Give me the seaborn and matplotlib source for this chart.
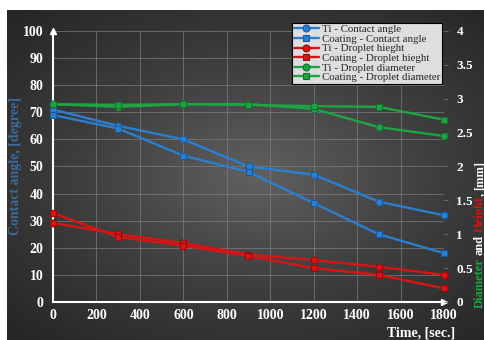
import numpy as np
import pandas as pd
import matplotlib
matplotlib.use("Agg")
import matplotlib.pyplot as plt
import seaborn as sns
from matplotlib.colors import LinearSegmentedColormap

# ---------------- data ----------------
time = [0, 300, 600, 900, 1200, 1500, 1800]
ti_angle = [71, 65, 60, 50, 47, 37, 32]
coat_angle = [69, 64, 54, 48, 36.5, 25, 18]
ti_height = [1.17, 1.00, 0.87, 0.70, 0.62, 0.52, 0.40]
coat_height = [1.31, 0.96, 0.83, 0.68, 0.50, 0.40, 0.20]
ti_diam = [2.92, 2.88, 2.92, 2.92, 2.85, 2.58, 2.45]
coat_diam = [2.92, 2.91, 2.92, 2.91, 2.89, 2.88, 2.69]

labels = ["Ti - Contact angle", "Coating - Contact angle",
          "Ti - Droplet hieght", "Coating - Droplet hieght",
          "Ti - Droplet diameter", "Coating - Droplet diameter"]
x_ticks = [0, 200, 400, 600, 800, 1000, 1200, 1400, 1600, 1800]
left_ticks = list(range(0, 101, 10))
right_ticks = [0, 0.5, 1, 1.5, 2, 2.5, 3, 3.5, 4]
right_ticklabels = ["0", "0.5", "1", "1.5", "2", "2.5", "3", "3.5", "4"]

sns.set_style("ticks")
plt.rcParams['font.family'] = ['Liberation Serif', 'DejaVu Serif']

W, H = 485, 340
fig = plt.figure(figsize=(W / 100, H / 100), dpi=100, facecolor="white")

# background gradient panel
bg = fig.add_axes([7 / W, 0, (W - 7) / W, (H - 10) / H], zorder=-10)
yy, xx = np.mgrid[-1:1:200j, -1:1:300j]
rr = np.sqrt(((xx - 0.05) / 1.1) ** 2 + ((yy - 0.0) / 1.0) ** 2)
grad = np.clip(1 - rr / 1.35, 0, 1)
cmap = LinearSegmentedColormap.from_list("bg", ["#262626", "#3e3e3e", "#606060"])
bg.imshow(grad, cmap=cmap, aspect="auto", extent=[0, 1, 0, 1], interpolation="bilinear")
bg.set_axis_off()

ax = fig.add_axes([53 / W, 38 / H, 391 / W, 271 / H])
ax.set_facecolor("none")
ax2 = ax.twinx()
ax2.set_facecolor("none")

blue, red, green = "#2a7fd2", "#d81414", "#1fa443"
blue_e, red_e, green_e = "#1a5a9c", "#9a0a0a", "#137030"

def draw(a, y, col, edge, marker, label):
    sns.lineplot(x=time, y=y, ax=a, color=col, marker=marker, markersize=5,
                 markeredgecolor=edge, markeredgewidth=0.8, linewidth=1.7,
                 label=label, clip_on=False, zorder=5)

draw(ax, ti_angle, blue, blue_e, "o", labels[0])
draw(ax, coat_angle, blue, blue_e, "s", labels[1])
draw(ax2, ti_height, red, red_e, "o", labels[2])
draw(ax2, coat_height, red, red_e, "s", labels[3])
draw(ax2, ti_diam, green, green_e, "o", labels[4])
draw(ax2, coat_diam, green, green_e, "s", labels[5])

h1, l1 = ax.get_legend_handles_labels()
h2, l2 = ax2.get_legend_handles_labels()
if ax.get_legend():
    ax.get_legend().remove()
if ax2.get_legend():
    ax2.get_legend().remove()

ax.set_xlim(0, 1800)
ax.set_ylim(0, 100)
ax2.set_ylim(0, 4)
ax.set_xticks(x_ticks)
ax.set_yticks(left_ticks)
ax2.set_yticks(right_ticks)
ax2.set_yticklabels(right_ticklabels)
ax.set_xlabel("")
ax.set_ylabel("")
ax2.set_ylabel("")

ax.grid(True, color="#808080", linewidth=0.6, alpha=0.8)
ax.set_axisbelow(True)

tkw = dict(colors="white", labelsize=10)
ax.tick_params(axis="x", length=0, pad=5, **tkw)
ax.tick_params(axis="y", length=0, pad=7, **tkw)
ax2.tick_params(axis="y", length=3, width=0.6, color="#777777", pad=6,
                labelcolor="white", labelsize=9.5)
for t in ax.get_xticklabels() + ax.get_yticklabels() + ax2.get_yticklabels():
    t.set_fontweight("bold")

for s in ["top", "right"]:
    ax.spines[s].set_visible(False)
    ax2.spines[s].set_visible(False)
ax2.spines["left"].set_visible(False)
ax2.spines["bottom"].set_visible(False)
for s in ["left", "bottom"]:
    ax.spines[s].set_color("white")
    ax.spines[s].set_linewidth(1.5)
ax.plot(1, 0, ">", transform=ax.transAxes, color="white", ms=4, clip_on=False)
ax.plot(0, 1, "^", transform=ax.transAxes, color="white", ms=4, clip_on=False)

leg = ax2.legend(h1 + h2, l1 + l2, loc="upper left",
                 bbox_to_anchor=(292 / W, 1 - 23 / H), bbox_transform=fig.transFigure,
                 fontsize=7.8, labelspacing=0.0, handlelength=2.3, handletextpad=0.3,
                 borderpad=0.15, borderaxespad=0, frameon=True, fancybox=False,
                 framealpha=1, facecolor="#dedede", edgecolor="black")
leg.get_frame().set_linewidth(0.8)
leg.set_zorder(20)

# axis titles
fig.text(16 / W, 1 - 166 / H, "Contact angle, [degree]", rotation=90,
         ha="center", va="center", color="#3d6a9e", fontsize=10, fontweight="bold")
fig.text(455 / W, 1 - 333 / H, "Time, [sec.]", ha="right", va="center",
         color="white", fontsize=10, fontweight="bold")

fig.canvas.draw()
r = fig.canvas.get_renderer()
parts = [("Diameter", green, 3), ("and", "white", 3), ("Height", red, 0),
         (",", "white", 3), ("[mm]", "white", 0)]
ypos = H - 308
for txt, col, gap in parts:
    t = fig.text(479.5 / W, ypos / H, txt, rotation=90, ha="center", va="bottom",
                 color=col, fontsize=9, fontweight="bold")
    bb = t.get_window_extent(r)
    ypos += bb.height + gap

fig.savefig("out.png", dpi=100, facecolor=fig.get_facecolor())
